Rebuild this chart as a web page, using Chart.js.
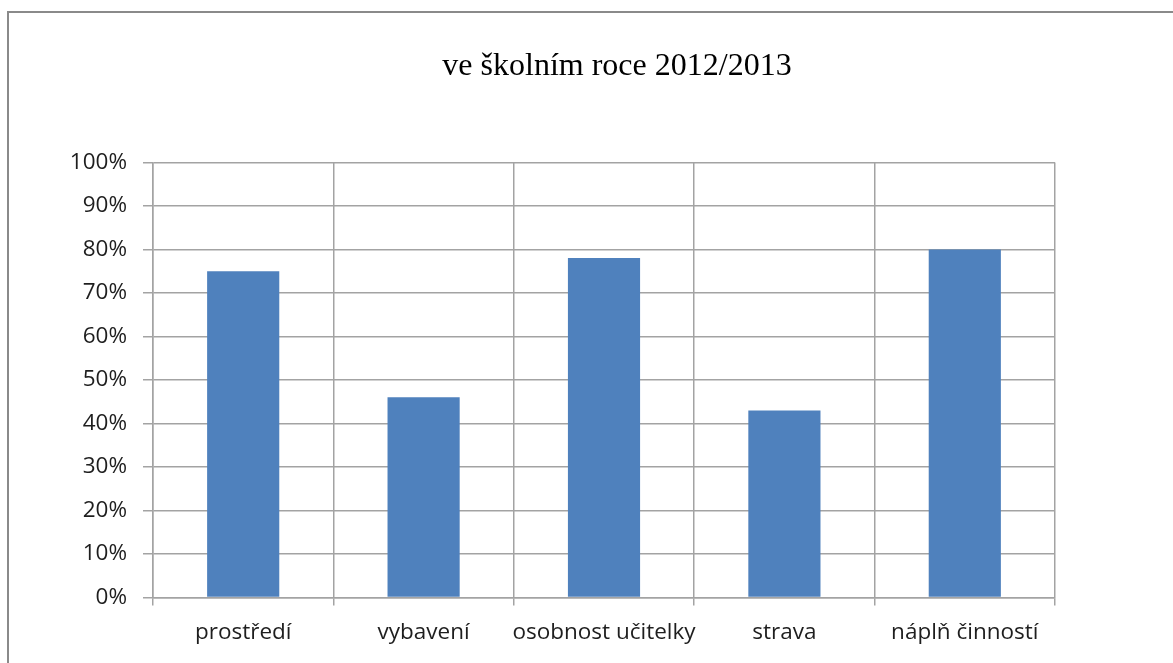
<!DOCTYPE html>
<html lang="cs">
<head>
<meta charset="utf-8">
<title>ve školním roce 2012/2013</title>
<script src="https://cdn.jsdelivr.net/npm/chart.js@4/dist/chart.umd.min.js"></script>
<style>
  html, body { margin: 0; padding: 0; background: #fff; overflow: hidden; }
  #wrap { position: relative; width: 1173px; height: 663px; overflow: hidden; }
  #frame {
    position: absolute; left: 7px; top: 11px; right: 0; bottom: 0;
    border-top: 2px solid #8a8a8a; border-left: 2px solid #8a8a8a;
  }
  #chart { position: absolute; left: 0; top: 0; }
</style>
</head>
<body>
<div id="wrap">
  <div id="frame"></div>
  <canvas id="chart" width="1173" height="663"></canvas>
</div>
<script>
// Chart data
const titleText = 've školním roce 2012/2013';
const categories = ['prostředí', 'vybavení', 'osobnost učitelky', 'strava', 'náplň činností'];
const shares = [75, 46, 78, 43, 80];
const yTickLabels = ['0%', '10%', '20%', '30%', '40%', '50%', '60%', '70%', '80%', '90%', '100%'];

const gridColor = '#a3a3a3';
const labelFont = { family: '"Open Sans", sans-serif', size: 22.5 };

const ctx = document.getElementById('chart').getContext('2d');
new Chart(ctx, {
  type: 'bar',
  data: {
    labels: categories,
    datasets: [{
      data: shares,
      backgroundColor: '#4f81bd',
      borderWidth: 0,
      barPercentage: 0.4,
      categoryPercentage: 1
    }]
  },
  options: {
    responsive: false,
    animation: false,
    // left padding pushes the centred title to the right like in the original
    layout: { padding: { left: 61, right: 0, top: 0, bottom: 0 } },
    plugins: {
      legend: { display: false },
      tooltip: { enabled: false },
      title: {
        display: true,
        text: titleText,
        color: '#000',
        font: { family: '"Liberation Serif", "Times New Roman", serif', size: 32, weight: 'normal' },
        padding: { top: 47, bottom: 77 }
      }
    },
    scales: {
      x: {
        grid: { display: true, offset: true, color: gridColor, lineWidth: 1.5, tickLength: 8 },
        border: { display: true, color: gridColor, width: 1.5 },
        ticks: { color: '#1e1e1e', font: labelFont, padding: 14, maxRotation: 0, autoSkip: false },
        afterFit: (scale) => { scale.height = 65.5; }
      },
      y: {
        min: 0,
        max: 100,
        grid: { color: gridColor, lineWidth: 1.5, tickLength: 10 },
        border: { display: true, color: gridColor, width: 1.5 },
        ticks: {
          stepSize: 10,
          color: '#1e1e1e',
          font: labelFont,
          padding: 16,
          callback: (v, i) => yTickLabels[i]
        },
        afterFit: (scale) => { scale.width = 92; }
      },
      // empty spacer on the right, keeps the plot area narrower than the frame
      spacer: {
        type: 'linear',
        position: 'right',
        grid: { display: false },
        border: { display: false },
        ticks: { display: false },
        afterFit: (scale) => { scale.width = 118; }
      }
    }
  }
});
</script>
</body>
</html>
